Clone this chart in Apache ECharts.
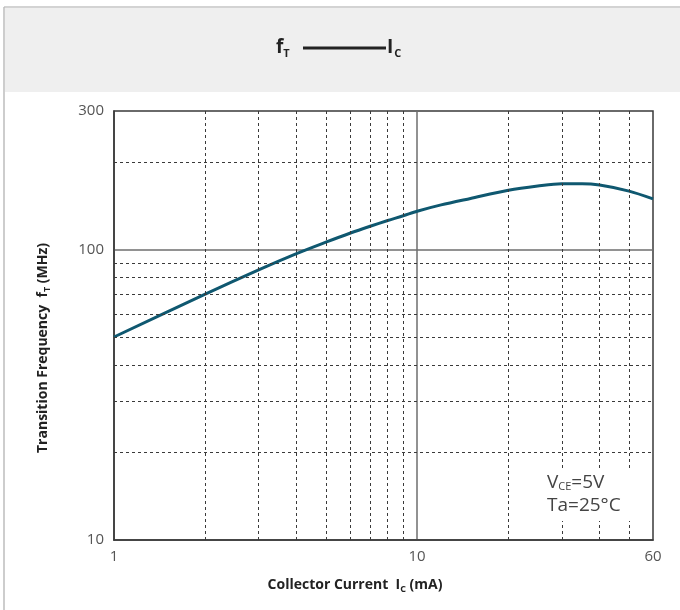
<!DOCTYPE html>
<html><head><meta charset="utf-8">
<script src="https://cdn.jsdelivr.net/npm/echarts@6/dist/echarts.min.js"></script>
<style>html,body{margin:0;padding:0;background:#fff}#c{width:680px;height:610px}</style>
</head><body><div id="c"></div>
<script>
const currentMA = [1, 2, 3, 4, 5, 6, 7, 8, 9, 10, 12, 15, 20, 25, 30, 35, 40, 50, 60];
const freqMHz = [50, 70.2, 85.1, 96.8, 106, 113.8, 120.3, 125.9, 130.7, 135.5, 142.5, 150, 160, 165.5, 168.6, 168.6, 166.8, 159, 149.5];
const minorGridX = [2, 3, 4, 5, 6, 7, 8, 9, 20, 30, 40, 50];
const minorGridY = [20, 30, 40, 50, 60, 70, 80, 90, 200];
const xRange = [1, 60];
const yRange = [10, 300];

const FONT = '"Open Sans", "Noto Sans", sans-serif';
const chart = echarts.init(document.getElementById('c'), null, {renderer: 'canvas'});
const dashed = {color: '#3a3a3a', width: 1, type: [3, 3]};

chart.setOption({
  animation: false,
  backgroundColor: '#fff',
  grid: {left: 114, top: 111, width: 539, height: 429, show: true, borderColor: '#3a3a3a', borderWidth: 1.5, containLabel: false},
  xAxis: {
    type: 'log', logBase: 10, min: xRange[0], max: xRange[1],
    axisLine: {show: true, lineStyle: {color: '#3a3a3a', width: 1.5}},
    axisTick: {show: false},
    axisLabel: {color: '#555', fontSize: 15, fontFamily: FONT, margin: 9, showMinLabel: true, showMaxLabel: true},
    splitLine: {show: true, showMinLine: false, showMaxLine: false, lineStyle: {color: '#6e6e6e', width: 1.5}}
  },
  yAxis: {
    type: 'log', logBase: 10, min: yRange[0], max: yRange[1],
    axisLine: {show: true, lineStyle: {color: '#3a3a3a', width: 1.5}},
    axisTick: {show: false},
    axisLabel: {color: '#555', fontSize: 15, fontFamily: FONT, margin: 10, showMinLabel: true, showMaxLabel: true},
    splitLine: {show: true, showMinLine: false, showMaxLine: false, lineStyle: {color: '#6e6e6e', width: 1.5}}
  },
  graphic: [
    {type: 'rect', z: -10, shape: {x: 5, y: 8, width: 675, height: 84}, style: {fill: '#efefef'}},
    {type: 'line', shape: {x1: 4, y1: 7, x2: 680, y2: 7}, style: {stroke: '#c4c4c4', lineWidth: 1.5}},
    {type: 'line', shape: {x1: 4, y1: 7, x2: 4, y2: 610}, style: {stroke: '#bdbdbd', lineWidth: 1.5}},
    {type: 'text', x: 276, y: 48, style: {text: 'f{s|T}', fill: '#222', font: 'bold 19px ' + FONT, verticalAlign: 'middle',
      rich: {s: {fontSize: 11, fontWeight: 'bold', fill: '#222', padding: [12, 0, 0, 0], fontFamily: FONT}}}},
    {type: 'line', shape: {x1: 303, y1: 48, x2: 386, y2: 48}, style: {stroke: '#222', lineWidth: 3}},
    {type: 'text', x: 387, y: 48, style: {text: 'I{s|C}', fill: '#222', font: 'bold 19px ' + FONT, verticalAlign: 'middle',
      rich: {s: {fontSize: 11, fontWeight: 'bold', fill: '#222', padding: [12, 0, 0, 1], fontFamily: FONT}}}},
    {type: 'text', x: 43, y: 348, rotation: Math.PI / 2, style: {text: 'Transition Frequency  f{s|T} (MHz)', fill: '#222',
      font: 'bold 14px ' + FONT, align: 'center', verticalAlign: 'middle',
      rich: {s: {fontSize: 9, fontWeight: 'bold', fill: '#222', padding: [8, 0, 0, 0], fontFamily: FONT}}}},
    {type: 'text', x: 355, y: 585, style: {text: 'Collector Current  I{s|C} (mA)', fill: '#222',
      font: 'bold 14px ' + FONT, align: 'center', verticalAlign: 'middle',
      rich: {s: {fontSize: 9, fontWeight: 'bold', fill: '#222', padding: [8, 0, 0, 0], fontFamily: FONT}}}},
    {type: 'rect', z: 100, shape: {x: 543, y: 469, width: 89, height: 52}, style: {fill: '#fff'}},
    {type: 'text', z: 101, x: 547, y: 471, style: {text: 'V{s|CE}=5V\nTa=25°C', fill: '#444', font: '19px ' + FONT, lineHeight: 23,
      rich: {s: {fontSize: 11, fill: '#444', padding: [9, 0, 0, 0], fontFamily: FONT}}}}
  ],
  series: [
    {
      type: 'line', data: [], z: 1, silent: true,
      markLine: {
        silent: true, symbol: 'none', label: {show: false}, animation: false, lineStyle: dashed,
        data: minorGridX.map(v => ({xAxis: v})).concat(minorGridY.map(v => ({yAxis: v})))
      }
    },
    {
      type: 'line', z: 3, smooth: 0.3, showSymbol: false, symbol: 'none',
      lineStyle: {color: '#0f5870', width: 3},
      data: currentMA.map((x, i) => [x, freqMHz[i]])
    }
  ]
});
</script></body></html>
